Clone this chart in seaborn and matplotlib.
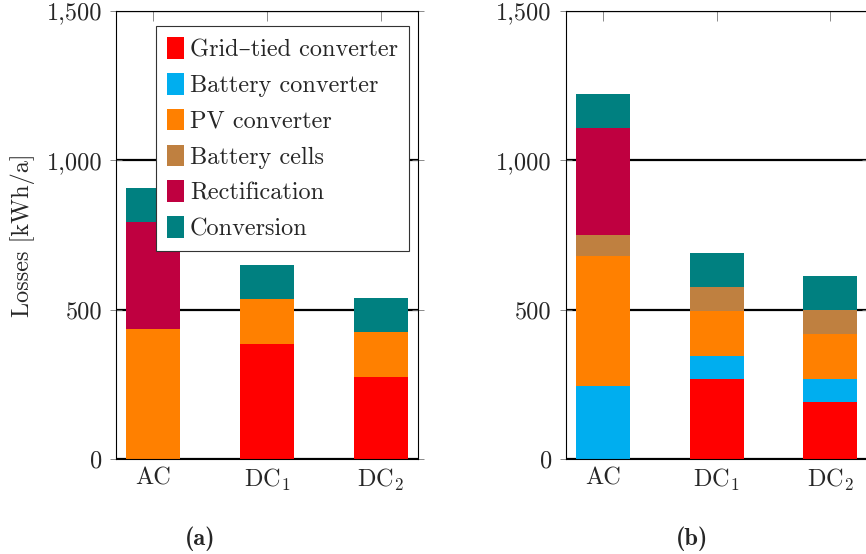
import matplotlib
matplotlib.use("Agg")
import matplotlib.pyplot as plt
import seaborn as sns
import numpy as np
from matplotlib.ticker import FuncFormatter

categories = ["AC", r"DC$_1$", r"DC$_2$"]
components = ["Grid\u2013tied converter", "Battery converter", "PV converter",
              "Battery cells", "Rectification", "Conversion"]
colors = ["#FF0000", "#00AEEF", "#FF8000", "#BF8040", "#BF0040", "#008080"]

# panel (a)
a_grid = [0, 385, 275]
a_batconv = [0, 0, 0]
a_pv = [435, 151, 151]
a_cells = [0, 0, 0]
a_rect = [359, 0, 0]
a_conv = [113, 113, 114]

# panel (b)
b_grid = [0, 268, 191]
b_batconv = [245, 78, 76]
b_pv = [436, 150, 151]
b_cells = [69, 81, 80]
b_rect = [359, 0, 0]
b_conv = [113, 114, 114]

yticks = [0, 500, 1000, 1500]

sns.set_theme(style="white")
plt.rcParams["font.family"] = ["cmr10", "DejaVu Serif"]
plt.rcParams["mathtext.fontset"] = "cm"
plt.rcParams["axes.unicode_minus"] = False
plt.rcParams["axes.formatter.use_mathtext"] = True

fig = plt.figure(figsize=(8.66, 5.54), dpi=100)
W, H = 866, 554
ax_w = 302 / W
ax_h = 448 / H
bottom = (H - 459) / H
axA = fig.add_axes([116 / W, bottom, ax_w, ax_h])
axB = fig.add_axes([565.7 / W, bottom, ax_w, ax_h])

FS = 17.5

def draw(ax, series, legend):
    cum = np.zeros(len(categories))
    for name, vals, col in zip(components, series, colors):
        vals = np.asarray(vals, dtype=float)
        sns.barplot(x=categories, y=vals, bottom=cum, color=col, width=0.476,
                    ax=ax, label=name, linewidth=0, saturation=1)
        cum = cum + vals
    ax.set_xlim(-0.33, 2.33)
    ax.set_ylim(0, 1500)
    ax.set_yticks(yticks)
    ax.yaxis.set_major_formatter(FuncFormatter(lambda v, p: f"{int(v):,}"))
    ax.set_axisbelow(True)
    ax.grid(axis="y", color="black", linewidth=1.6)
    ax.grid(axis="x", visible=False)
    for s in ax.spines.values():
        s.set_visible(True)
        s.set_color("black")
        s.set_linewidth(0.8)
    ax.tick_params(axis="x", which="both", top=True, bottom=True, direction="in",
                   length=7, color="#777777", width=0.6, labelsize=FS, pad=6)
    ax.tick_params(axis="y", which="both", left=True, right=True, direction="inout",
                   length=8, color="#777777", width=0.6, labelsize=FS, pad=6)
    ax.set_xlabel("")
    ax.set_ylabel("")
    if legend:
        leg = ax.legend(loc="upper right", bbox_to_anchor=((409 - 116) / 302, 1 - (26 - 11) / 448),
                        borderaxespad=0, frameon=True, fancybox=False, fontsize=FS,
                        handlelength=0.7, handleheight=1.0, handletextpad=0.25,
                        labelspacing=0.48, borderpad=0.45, framealpha=1)
        leg.get_frame().set_edgecolor("#333333")
        leg.get_frame().set_linewidth(0.8)
    else:
        if ax.get_legend() is not None:
            ax.get_legend().remove()

draw(axA, [a_grid, a_batconv, a_pv, a_cells, a_rect, a_conv], True)
draw(axB, [b_grid, b_batconv, b_pv, b_cells, b_rect, b_conv], False)

axA.set_ylabel("Losses [kWh/a]", fontsize=FS, labelpad=8)

fig.text(200 / W, 1 - 539 / H, "(a)", ha="center", va="center", fontsize=FS,
         family=["cmb10", "DejaVu Serif"])
fig.text(692 / W, 1 - 539 / H, "(b)", ha="center", va="center", fontsize=FS,
         family=["cmb10", "DejaVu Serif"])

fig.savefig("out.png", dpi=100)
